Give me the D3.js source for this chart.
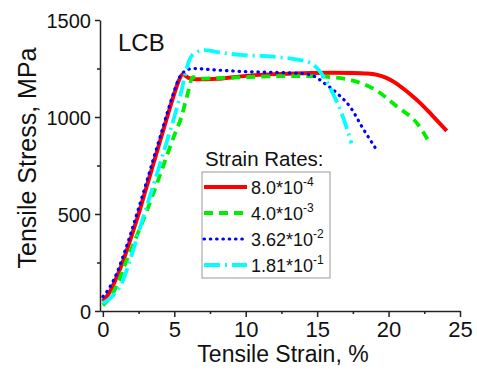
<!DOCTYPE html>
<html>
<head>
<meta charset="utf-8">
<script src="https://cdn.jsdelivr.net/npm/d3@7"></script>
<style>
  body { margin: 0; background: #fff; }
  text { font-family: "Liberation Sans", Arial, sans-serif; fill: #111; }
</style>
</head>
<body>
<div class="plot1"></div>
<script>
// tensile curves, LCB, four strain rates

var rateLabels = [["8.0*10", "-4"], ["4.0*10", "-3"], ["3.62*10", "-2"], ["1.81*10", "-1"]];
var xTicks = [0, 5, 10, 15, 20, 25];
var yTicks = [0, 500, 1000, 1500];

// [strain %, stress MPa]
var rate1 = [[0,50],[0.5,100],[1,180],[1.5,275],[2,385],[2.5,500],[3,625],[3.5,750],[4,875],[4.5,1000],[5,1120],[5.3,1185],[5.6,1220],[6,1202],[6.5,1194],[8,1197],[10,1212],[12,1221],[14,1226],[16,1228],[17.5,1227],[18.5,1224],[19.2,1217],[19.8,1203],[20.4,1180],[21,1148],[21.6,1112],[22.2,1073],[23.1,1005],[24.07,929]];
var rate2 = [[0,30],[0.5,68],[1,135],[1.5,230],[2,320],[2.5,410],[3,500],[3.5,600],[4,700],[4.5,805],[5,905],[5.5,1000],[5.9,1110],[6.3,1205],[7,1198],[8,1200],[9.6,1204],[12,1210],[14.3,1211],[16,1205],[17.3,1191],[18.9,1148],[20.6,1053],[22,967],[22.9,864]];
var rate3 = [[0,74],[0.5,125],[1,200],[1.5,300],[2,410],[2.5,530],[3,650],[3.5,775],[4,895],[4.5,1020],[5,1135],[5.3,1195],[5.6,1228],[6.3,1250],[8,1242],[10,1234],[12,1230],[14,1224],[14.8,1210],[15.4,1180],[16.4,1122],[17.3,1053],[18.2,942],[19.2,826]];
var rate4 = [[0,40],[0.6,72],[1.3,140],[2,285],[2.6,430],[3.2,570],[3.8,710],[4.4,855],[5,1000],[5.5,1135],[5.9,1260],[6.3,1322],[7.1,1345],[8,1335],[9.6,1320],[11.9,1311],[14.3,1285],[14.8,1265],[15.2,1234],[16.1,1122],[16.8,1002],[17.4,864]];

var series = [rate1, rate2, rate3, rate4];
var colors = ["#ff0000", "#00ee00", "#0000ff", "#00ffff"];
var dashes = [null, "9,6", "0.5,5.8", "16,5,2,5"];
var widths = [4, 3.8, 3.2, 3.8];
var caps = ["butt", "butt", "round", "butt"];

var svgWidth = 477;
var svgHeight = 370;

var svg = d3.select(".plot1")
  .append("svg")
  .attr("width", svgWidth)
  .attr("height", svgHeight);

var x = d3.scaleLinear().domain([-0.2, 25]).range([100, 460]);
var y = d3.scaleLinear().domain([0, 1500]).range([311, 20]);

// axes, major + minor ticks
var bottomAxis = d3.axisBottom(x).tickValues(xTicks).tickSize(6).tickSizeOuter(0).tickPadding(4).tickFormat(d3.format("d"));
var leftAxis = d3.axisLeft(y).tickValues(yTicks).tickSize(5).tickSizeOuter(0).tickPadding(4).tickFormat(d3.format("d"));

var gx = svg.append("g").attr("transform", "translate(0,311)").call(bottomAxis);
var gy = svg.append("g").attr("transform", "translate(100,0)").call(leftAxis);

svg.append("g").attr("transform", "translate(0,311)")
  .call(d3.axisBottom(x).tickValues([2.5, 7.5, 12.5, 17.5, 22.5]).tickSize(3).tickFormat(""))
  .select(".domain").remove();
svg.append("g").attr("transform", "translate(100,0)")
  .call(d3.axisLeft(y).tickValues([250, 750, 1250]).tickSize(3).tickFormat(""))
  .select(".domain").remove();

svg.selectAll(".domain, .tick line").attr("stroke", "#222").attr("stroke-width", 1.5);
gx.selectAll("text").style("font-size", "22px").attr("fill", "#111");
gy.selectAll("text").style("font-size", "20px").attr("fill", "#111").attr("dy", "0.35em");

// curves
var line = d3.line()
  .x(d => x(d[0]))
  .y(d => y(d[1]))
  .curve(d3.curveMonotoneX);

svg.selectAll(".curve")
  .data(series)
  .enter()
  .append("path")
  .attr("class", "curve")
  .attr("d", line)
  .attr("fill", "none")
  .attr("stroke", (d, i) => colors[i])
  .attr("stroke-width", (d, i) => widths[i])
  .attr("stroke-dasharray", (d, i) => dashes[i])
  .attr("stroke-linecap", (d, i) => caps[i]);

// labels
svg.append("text")
  .attr("x", 118).attr("y", 51)
  .style("font-size", "24px")
  .text("LCB");

svg.append("text")
  .attr("transform", "translate(36,158) rotate(-90)")
  .attr("text-anchor", "middle")
  .style("font-size", "25px")
  .text("Tensile Stress, MPa");

svg.append("text")
  .attr("x", 283).attr("y", 362)
  .attr("text-anchor", "middle")
  .style("font-size", "23px")
  .text("Tensile Strain, %");

// legend
svg.append("text")
  .attr("x", 205).attr("y", 166)
  .style("font-size", "20.5px")
  .text("Strain Rates:");

svg.append("rect")
  .attr("x", 202).attr("y", 172)
  .attr("width", 128).attr("height", 106)
  .attr("fill", "#fff")
  .attr("stroke", "#999")
  .attr("stroke-width", 1);

var rowY = [187, 213, 239, 265];

var rows = svg.selectAll(".leg")
  .data(rateLabels)
  .enter()
  .append("g")
  .attr("class", "leg")
  .attr("transform", (d, i) => `translate(0,${rowY[i]})`);

rows.append("line")
  .attr("x1", 204).attr("x2", 247)
  .attr("y1", 0).attr("y2", 0)
  .attr("stroke", (d, i) => colors[i])
  .attr("stroke-width", (d, i) => widths[i])
  .attr("stroke-dasharray", (d, i) => dashes[i])
  .attr("stroke-linecap", (d, i) => caps[i]);

var lt = rows.append("text")
  .attr("x", 251).attr("y", 6.5)
  .style("font-size", "18px");
lt.append("tspan").text(d => d[0]);
lt.append("tspan").attr("dy", -8).style("font-size", "12px").text(d => d[1]);
</script>
</body>
</html>
